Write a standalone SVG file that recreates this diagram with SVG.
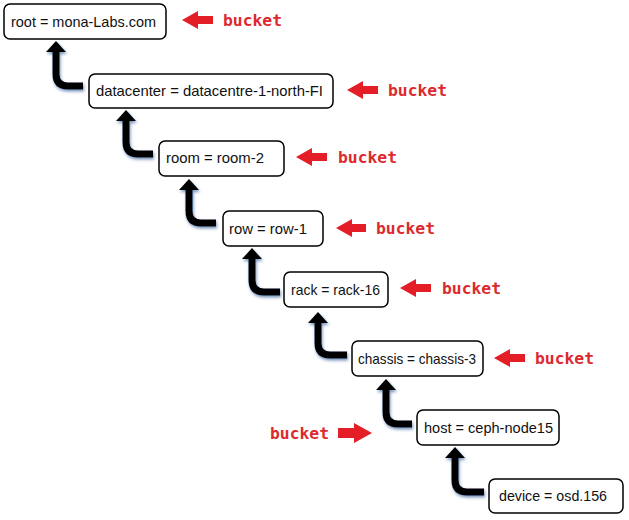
<svg xmlns="http://www.w3.org/2000/svg" width="629" height="520" viewBox="0 0 629 520">
<style>
.box{fill:#fff;stroke:#000;stroke-width:1.5}
.lbl{font-family:"Liberation Sans",Arial,sans-serif;font-size:14.5px;fill:#111}
.bk{font-family:"DejaVu Sans Mono","Liberation Mono",monospace;font-size:16px;font-weight:bold;fill:#dc2a2e}
.shaft{fill:none;stroke:#000;stroke-width:7}
.head{fill:#000}
.red{fill:#e41e26}
</style>
<defs>
<filter id="glow" x="-30%" y="-30%" width="160%" height="160%">
<feDropShadow dx="1" dy="2" stdDeviation="1.5" flood-color="#1f4e8c" flood-opacity="0.6"/>
</filter>
</defs>
<rect width="629" height="520" fill="#fff"/>
<g id="connectors" filter="url(#glow)">
<path class="shaft" d="M83,86 H68 Q56,86 56,74 V50"/><polygon class="head" points="56,41 46,52 66,52"/>
<path class="shaft" d="M153,154 H138 Q126,154 126,142 V119"/><polygon class="head" points="126,110 116,121 136,121"/>
<path class="shaft" d="M216,223 H201 Q189,223 189,211 V188"/><polygon class="head" points="189,179 179,190 199,190"/>
<path class="shaft" d="M280,292 H264 Q252,292 252,280 V257"/><polygon class="head" points="252,248 242,259 262,259"/>
<path class="shaft" d="M347,355 H330 Q318,355 318,343 V321"/><polygon class="head" points="318,312 308,323 328,323"/>
<path class="shaft" d="M412,424 H398 Q386,424 386,412 V388"/><polygon class="head" points="386,379 376,390 396,390"/>
<path class="shaft" d="M484,492 H467 Q455,492 455,480 V456"/><polygon class="head" points="455,447 445,458 465,458"/>
</g>
<g id="bucket-arrows">
<polygon class="red" points="182,20 198,11 198,16 213,16 213,24 198,24 198,29"/>
<polygon class="red" points="347,90 363,81 363,86 378,86 378,94 363,94 363,99"/>
<polygon class="red" points="296,157 312,148 312,153 327,153 327,161 312,161 312,166"/>
<polygon class="red" points="336,228 352,219 352,224 366,224 366,232 352,232 352,237"/>
<polygon class="red" points="400,288 416,279 416,284 431,284 431,292 416,292 416,297"/>
<polygon class="red" points="494,358 510,349 510,354 525,354 525,362 510,362 510,367"/>
<polygon class="red" points="372,433 354,423 354,428 338,428 338,438 354,438 354,443"/>
<text class="bk" x="223" y="26" textLength="59" lengthAdjust="spacingAndGlyphs">bucket</text>
<text class="bk" x="388" y="96" textLength="59" lengthAdjust="spacingAndGlyphs">bucket</text>
<text class="bk" x="338" y="163" textLength="59" lengthAdjust="spacingAndGlyphs">bucket</text>
<text class="bk" x="376" y="234" textLength="59" lengthAdjust="spacingAndGlyphs">bucket</text>
<text class="bk" x="442" y="294" textLength="59" lengthAdjust="spacingAndGlyphs">bucket</text>
<text class="bk" x="535" y="364" textLength="59" lengthAdjust="spacingAndGlyphs">bucket</text>
<text class="bk" x="270" y="439" textLength="59" lengthAdjust="spacingAndGlyphs">bucket</text>
</g>
<g id="root"><rect class="box" x="4" y="4" width="162" height="35" rx="6"/><text class="lbl" x="11" y="27" textLength="145" lengthAdjust="spacingAndGlyphs">root = mona-Labs.com</text></g>
<g id="datacenter"><rect class="box" x="89" y="74" width="244" height="34" rx="6"/><text class="lbl" x="96" y="96" textLength="227" lengthAdjust="spacingAndGlyphs">datacenter = datacentre-1-north-FI</text></g>
<g id="room"><rect class="box" x="159" y="141" width="125" height="35" rx="6"/><text class="lbl" x="166" y="163" textLength="98" lengthAdjust="spacingAndGlyphs">room = room-2</text></g>
<g id="row"><rect class="box" x="223" y="211" width="100" height="35" rx="6"/><text class="lbl" x="229" y="234" textLength="78" lengthAdjust="spacingAndGlyphs">row = row-1</text></g>
<g id="rack"><rect class="box" x="284" y="272" width="104" height="35" rx="6"/><text class="lbl" x="291" y="295" textLength="89" lengthAdjust="spacingAndGlyphs">rack = rack-16</text></g>
<g id="chassis"><rect class="box" x="352" y="341" width="131" height="35" rx="6"/><text class="lbl" x="358" y="364" textLength="118" lengthAdjust="spacingAndGlyphs">chassis = chassis-3</text></g>
<g id="host"><rect class="box" x="417" y="410" width="142" height="35" rx="6"/><text class="lbl" x="424" y="433" textLength="129" lengthAdjust="spacingAndGlyphs">host = ceph-node15</text></g>
<g id="device"><rect class="box" x="489" y="479" width="134" height="34" rx="6"/><text class="lbl" x="499" y="501" textLength="108" lengthAdjust="spacingAndGlyphs">device = osd.156</text></g>
</svg>
